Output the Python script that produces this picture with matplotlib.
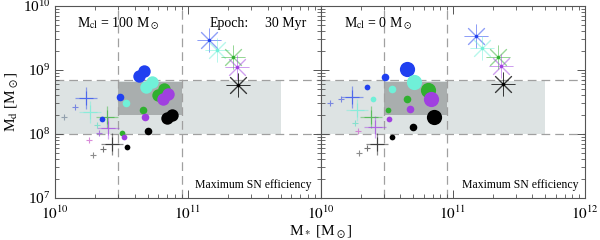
import matplotlib
matplotlib.use("Agg")
import matplotlib.pyplot as plt
import numpy as np

plt.rcParams['font.family'] = ['Liberation Serif', 'DejaVu Serif']
plt.rcParams['mathtext.fontset'] = 'stix'

colors = ['#2040f0', '#70f0d8', '#30b030', '#a040e0', '#000000']

# left panel: M_cl = 100 Msun
left_big_x = [[4.28e10, 4.67e10], [4.81e10, 5.33e10], [5.94e10, 6.6e10], [6.48e10, 7.08e10], [6.95e10, 7.59e10]]
left_big_y = [[8.06e8, 9.6e8], [5.37e8, 6.56e8], [4.06e8, 5.05e8], [3.52e8, 4.22e8], [1.78e8, 1.98e8]]
left_mid_x = [3.08e10, 3.42e10, 4.59e10, 4.75e10, 5.0e10]
left_mid_y = [3.79e8, 3.05e8, 2.37e8, 1.84e8, 1.11e8]
left_small_x = [2.25e10, None, 3.19e10, 3.3e10, 3.47e10]
left_small_y = [1.71e8, None, 1.04e8, 8.98e7, 6.27e7]
left_cross_x = [1.71e10, 1.83e10, 2.46e10, 2.5e10, 2.68e10]
left_cross_y = [3.65e8, 2.21e8, 1.84e8, 1.24e8, 6.98e7]
left_plus_x = [1.41e10, 2.07e10, 2.14e10, 1.8e10, 2.29e10, 1.93e10, 1.17e10]
left_plus_y = [2.63e8, 1.38e8, 1.04e8, 8.06e7, 5.84e7, 4.7e7, 1.84e8]
left_plus_c = ['#6070e0', '#70e0c8', '#a060e0', '#d070d0', '#505050', '#707070', '#8090a0']
left_star_x = [1.44e11, 1.65e11, 2.18e11, 2.33e11, 2.38e11]
left_star_y = [2.94e9, 2.05e9, 1.6e9, 1.11e9, 5.83e8]

# right panel: M_cl = 0 Msun
right_big_x = [4.51e10, 5.09e10, 6.48e10, 6.84e10, 7.2e10]
right_big_y = [1.04e9, 6.49e8, 4.87e8, 3.52e8, 1.84e8]
right_mid_x = [3.08e10, 3.47e10, 4.51e10, 4.75e10, 5.0e10]
right_mid_y = [7.77e8, 5.05e8, 3.52e8, 2.45e8, 1.29e8]
right_small_x = [2.25e10, 2.46e10, 3.19e10, 3.3e10, 3.47e10]
right_small_y = [5.42e8, 3.52e8, 2.37e8, 1.71e8, 8.98e7]
right_cross_x = [1.71e10, 1.87e10, 2.38e10, 2.55e10, 2.64e10]
right_cross_y = [3.79e8, 2.37e8, 1.84e8, 1.29e8, 6.98e7]
right_plus_x = [1.41e10, 1.17e10, 2.25e10, 1.93e10, 1.8e10, 1.9e10]
right_plus_y = [3.52e8, 3.05e8, 6.04e7, 5.05e7, 1.5e8, 1.1e8]
right_plus_c = ['#6070e0', '#6070e0', '#505050', '#707070', '#70e0c8', '#d070d0']
right_star_x = [1.49e11, 1.65e11, 2.18e11, 2.3e11, 2.38e11]
right_star_y = [3.39e9, 2.21e9, 1.6e9, 1.15e9, 6.03e8]

band_x = (1e10, 5e11)
band_y = (1e8, 6.8e8)
box_x = (3e10, 9e10)
box_y = (2e8, 6.5e8)
hlines = [1e8, 7e8]
vlines = [3e10, 9e10]

fig = plt.figure(figsize=(6, 2.4), dpi=100)
ax1 = fig.add_axes([55 / 600, 42 / 240, 266 / 600, 192 / 240])
ax2 = fig.add_axes([321 / 600, 42 / 240, 264 / 600, 192 / 240])


def setup(ax):
    ax.set_xscale('log')
    ax.set_yscale('log')
    ax.set_xlim(1e10, 1e12)
    ax.set_ylim(1e7, 1e10)
    ax.fill_between(band_x, band_y[0], band_y[1], color='#dde3e3', lw=0, zorder=0)
    ax.fill_between(box_x, box_y[0], box_y[1], color='#a9aeae', lw=0, zorder=0.5)
    for h in hlines:
        ax.axhline(h, color='#a0a0a0', ls=(0, (7, 4)), lw=0.9, zorder=1)
    for v in vlines:
        ax.axvline(v, color='#a0a0a0', ls=(0, (7, 4)), lw=0.9, zorder=1)
    ax.tick_params(which='both', direction='in', top=True, right=True, labelsize=11, color='#555555')
    ax.tick_params(which='major', length=6, width=0.7)
    ax.tick_params(which='minor', length=3, width=0.6)
    ax.tick_params(axis='x', pad=5)
    for s in ax.spines.values():
        s.set_color('#555555')
        s.set_linewidth(0.8)
    ax.text(0.965 if ax is ax1 else 0.975, 0.068, 'Maximum SN efficiency', transform=ax.transAxes,
            ha='right', va='center', fontsize=8.5)


def draw(ax, bx, by, mx, my, sx, sy, cx, cy, px, py, pc, stx, sty, big_size):
    for i, c in enumerate(colors):
        ax.scatter(np.atleast_1d(bx[i]), np.atleast_1d(by[i]), s=big_size, color=c, lw=0, zorder=5)
        ax.scatter(mx[i], my[i], s=30, color=c, lw=0, zorder=5)
        if sx[i] is not None:
            ax.scatter(sx[i], sy[i], s=17, color=c, lw=0, zorder=5)
        ax.plot(cx[i], cy[i], '+', color=c, ms=16, mew=0.9, alpha=0.45, zorder=4)
        ax.plot(cx[i], cy[i], '+', color=c, ms=10, mew=0.8, alpha=0.55, zorder=4)
        ax.plot(stx[i], sty[i], marker=(8, 2, 0), color=c, ms=17, mew=0.7,
                alpha=0.75 if c == '#000000' else 0.5, zorder=4)
        ax.plot(stx[i], sty[i], 'o', color=c, ms=1.5, zorder=4)
    for x, y, c in zip(px, py, pc):
        ax.plot(x, y, '+', color=c, ms=5, mew=0.8, alpha=0.8, zorder=4)


setup(ax1)
setup(ax2)
draw(ax1, left_big_x, left_big_y, left_mid_x, left_mid_y, left_small_x, left_small_y,
     left_cross_x, left_cross_y, left_plus_x, left_plus_y, left_plus_c,
     left_star_x, left_star_y, 80)
draw(ax2, right_big_x, right_big_y, right_mid_x, right_mid_y, right_small_x, right_small_y,
     right_cross_x, right_cross_y, right_plus_x, right_plus_y, right_plus_c,
     right_star_x, right_star_y, 120)

ax1.set_xticks([1e10, 1e11])
ax1.set_xticklabels(['$10^{10}$', '$10^{11}$'])
ax2.set_xticks([1e10, 1e11, 1e12])
ax2.set_xticklabels(['$10^{10}$', '$10^{11}$', '$10^{12}$'])
ax2.tick_params(axis='y', which='both', labelleft=False)

ax1.text(0.083, 0.91, r'M$_{\rm cl}$ = 100 M$_\odot$', transform=ax1.transAxes, fontsize=10, va='center')
ax1.text(0.58, 0.91, 'Epoch:', transform=ax1.transAxes, fontsize=10, va='center')
ax1.text(0.79, 0.91, '30 Myr', transform=ax1.transAxes, fontsize=10, va='center')
ax2.text(0.086, 0.91, r'M$_{\rm cl}$ = 0 M$_\odot$', transform=ax2.transAxes, fontsize=10, va='center')

ax1.set_ylabel(r'M$_{\rm d}$ [M$_\odot$]', fontsize=11, labelpad=2)
fig.text(321 / 600, 8 / 240, r'M$_*$ [M$_\odot$]', ha='center', va='center', fontsize=11)

fig.savefig('out.png', dpi=100)
